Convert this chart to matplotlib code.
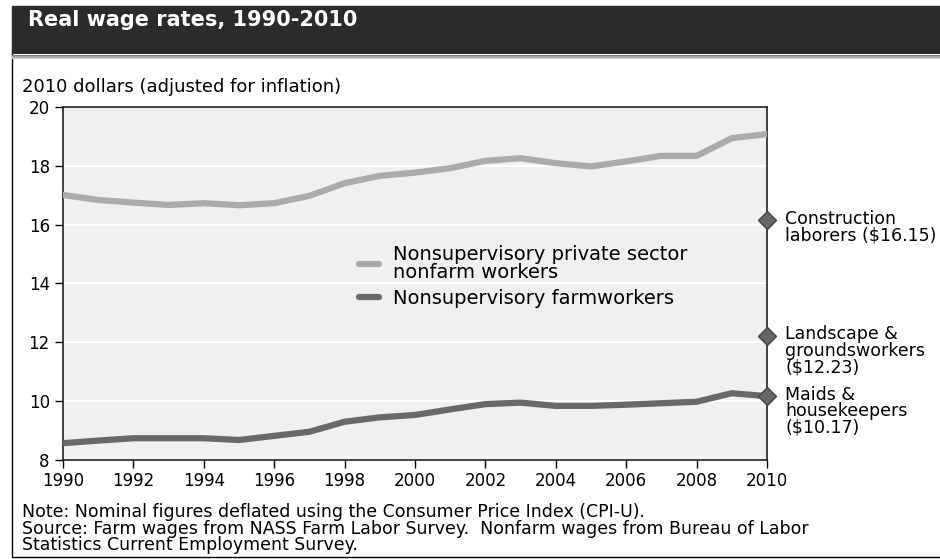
import numpy as np
import matplotlib
matplotlib.use("Agg")
import matplotlib.pyplot as plt
from matplotlib.patches import Rectangle

plt.rcParams['font.family'] = ['DejaVu Sans']

# Data
years = list(range(1990, 2011))
nonfarm = [17.01, 16.84, 16.75, 16.67, 16.73, 16.66, 16.73, 16.98, 17.41, 17.66, 17.77,
           17.92, 18.17, 18.26, 18.09, 17.98, 18.15, 18.34, 18.34, 18.94, 19.08]
farm = [8.57, 8.66, 8.74, 8.74, 8.74, 8.68, 8.82, 8.96, 9.30, 9.45, 9.53,
        9.72, 9.90, 9.95, 9.84, 9.84, 9.88, 9.93, 9.98, 10.27, 10.17]
series_names = ["Nonsupervisory private sector\nnonfarm workers",
                "Nonsupervisory farmworkers"]
ref_labels = ["Construction\nlaborers ($16.15)",
              "Landscape &\ngroundsworkers\n($12.23)",
              "Maids &\nhousekeepers\n($10.17)"]
ref_values = [16.15, 12.23, 10.17]
xticks = list(range(1990, 2011, 2))
yticks = [8, 10, 12, 14, 16, 18, 20]

W, H = 940, 559
fig = plt.figure(figsize=(W / 100, H / 100), dpi=100)

# outer frame and dark header
fig.add_artist(Rectangle((12 / W, 0.004), 1.0, 1 - 6 / H - 0.004, transform=fig.transFigure,
                         facecolor='white', edgecolor='black', lw=1.0, zorder=-5))
fig.add_artist(Rectangle((12 / W, 1 - 54 / H), 1.0, 48 / H, transform=fig.transFigure,
                         facecolor='#2b2b2b', edgecolor='none', zorder=-4))
for i, c in enumerate(['#7a7a7a', '#a8a8a8', '#d4d4d4']):
    fig.add_artist(Rectangle((12 / W, 1 - (56 + i * 1.5) / H), 1.0, 1.5 / H,
                             transform=fig.transFigure, facecolor=c, edgecolor='none',
                             zorder=-4))
fig.text(28 / W, 1 - 20 / H, "Real wage rates, 1990-2010", color='white',
         fontsize=15, fontweight='bold', va='center', ha='left')
fig.text(22 / W, 1 - 87 / H, "2010 dollars (adjusted for inflation)", fontsize=13,
         va='center', ha='left')

ax = fig.add_axes([63 / W, 1 - 460 / H, (767 - 63) / W, (460 - 107) / H])
ax.set_facecolor('#f0f0f0')
ax.plot(years, nonfarm, color='#ababab', lw=4.5, solid_capstyle='round',
        label=series_names[0], zorder=3)
ax.plot(years, farm, color='#696969', lw=4.5, solid_capstyle='round',
        label=series_names[1], zorder=3)
ax.plot([2010] * 3, ref_values, linestyle='none', marker='D', markersize=9,
        color='#666666', markeredgecolor='#444444', clip_on=False, zorder=5)
for v, lab in zip(ref_values, ref_labels):
    ax.annotate(lab, (2010, v), xytext=(13, 7.5), textcoords='offset points',
                fontsize=12.5, va='top', ha='left', linespacing=0.9,
                annotation_clip=False)

ax.set_xlim(1990, 2010)
ax.set_ylim(8, 20)
ax.set_xticks(xticks)
ax.set_yticks(yticks)
ax.grid(axis='y', color='white', lw=1.5)
ax.set_axisbelow(True)
ax.tick_params(direction='out', length=6, width=1, labelsize=12, colors='black')
ax.tick_params(axis='x', pad=3)
for s in ax.spines.values():
    s.set_color('#222222')
    s.set_linewidth(1.2)

leg = ax.legend(loc='upper left', bbox_to_anchor=(0.41, 0.632), frameon=False,
                fontsize=14, handlelength=1.0, handletextpad=0.75,
                labelspacing=0.35, borderaxespad=0)
for t in leg.get_texts():
    t.set_linespacing(0.95)

fig.text(22 / W, 1 - 503 / H, "Note: Nominal figures deflated using the Consumer Price Index (CPI-U).\n"
         "Source: Farm wages from NASS Farm Labor Survey.  Nonfarm wages from Bureau of Labor\n"
         "Statistics Current Employment Survey.", fontsize=12.5, va='top', ha='left',
         linespacing=0.9)

fig.savefig("out.png", dpi=100)
